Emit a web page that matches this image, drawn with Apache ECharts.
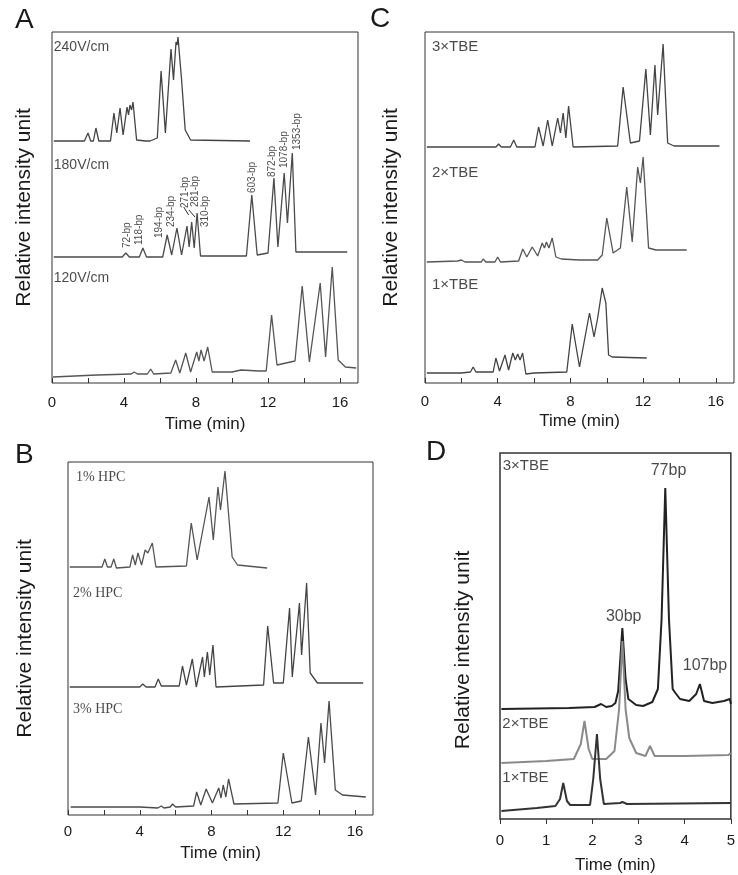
<!DOCTYPE html>
<html>
<head>
<meta charset="utf-8">
<script src="https://cdn.jsdelivr.net/npm/echarts@6/dist/echarts.min.js"></script>
<style>html,body{margin:0;padding:0;background:#fff}#c{width:738px;height:875px}</style>
</head>
<body>
<div id="c"></div>
<script>
// ---------- tick values ----------
const ticksLong = [0, 2, 4, 6, 8, 10, 12, 14, 16];
const labelsLong = [0, 4, 8, 12, 16];
const ticksD = [0, 1, 2, 3, 4, 5];

// ---------- Panel A (field strength) : [time min, relative intensity] ----------
const a240 = [[0.1,242],[1.8,242],[2.0,250],[2.15,242],[2.3,242],[2.44,255],[2.6,242],[3.25,242],[3.44,270],[3.6,250],[3.78,275],[3.95,248],[4.17,276],[4.25,268],[4.33,278],[4.42,273],[4.5,281],[4.7,243],[5.2,242],[5.3,244],[5.45,242],[5.85,245],[6.06,312],[6.3,250],[6.61,334],[6.75,303],[6.89,341],[6.95,338],[7.0,346],[7.2,303],[7.4,253],[7.7,243],[11.0,242]];
const a180 = [[0.1,126],[3.9,126],[4.1,130],[4.3,126],[4.85,126],[5.05,135],[5.25,126],[6.15,126],[6.4,148],[6.65,128],[6.94,155],[7.2,128],[7.5,157],[7.62,136],[7.76,161],[7.9,135],[8.06,170],[8.25,127],[10.8,127],[11.1,188],[11.4,128],[12.0,130],[12.33,205],[12.55,136],[12.9,210],[13.08,160],[13.35,230],[13.55,131],[16.4,131]];
const a120 = [[0.05,6],[2.5,8],[4.4,9],[4.57,11],[4.75,9],[5.3,9],[5.48,14],[5.65,9],[6.6,10],[6.87,23],[7.1,10],[7.43,30],[7.7,11],[8.04,31],[8.16,22],[8.28,33],[8.45,22],[8.65,36],[8.9,11],[10.0,11],[10.5,13],[11.5,12],[11.9,12],[12.2,68],[12.5,18],[13.0,20],[13.5,22],[13.9,97],[14.3,21],[14.9,100],[15.2,26],[15.57,116],[15.9,23],[16.3,16],[16.9,15]];
const aTraceNames = [['240V/cm',0.1,336],['180V/cm',0.1,218],['120V/cm',0.1,105]];
const aBpLabels = [['72-bp',4.17,135],['118-bp',4.83,138],['194-bp',5.94,145],['234-bp',6.61,156],['271-bp',7.39,175],['281-bp',7.94,176],['310-bp',8.5,156],['603-bp',11.11,190],['872-bp',12.22,206],['1078-bp',12.9,215],['1353-bp',13.6,233]];
const aLeader271 = [[7.32,176],[7.59,168]];
const aLeader281 = [[7.61,173],[7.94,166]];

// ---------- Panel B (HPC concentration) ----------
const b1 = [[0.1,248],[1.9,248],[2.05,256],[2.2,248],[2.4,248],[2.55,256],[2.7,247],[3.45,248],[3.6,260],[3.75,250],[3.9,262],[4.1,250],[4.3,265],[4.45,262],[4.7,272],[4.9,248],[6.6,249],[6.87,292],[7.2,255],[7.86,318],[8.1,275],[8.36,328],[8.5,305],[8.75,344],[9.15,258],[9.45,250],[11.1,247]];
const b2 = [[0.1,128],[4.0,128],[4.17,131],[4.35,128],[4.85,128],[5.03,136],[5.2,129],[6.2,129],[6.38,149],[6.6,130],[6.93,156],[7.15,128],[7.5,158],[7.6,138],[7.77,163],[7.9,140],[8.08,170],[8.25,128],[10.9,130],[11.13,189],[11.46,132],[12.0,132],[12.35,207],[12.5,138],[12.9,212],[13.02,160],[13.3,232],[13.5,142],[13.9,132],[16.45,132]];
const b3 = [[0.15,8],[4.0,8],[5.0,7],[5.2,9],[5.35,7],[5.7,8],[5.83,11],[6.0,8],[7.0,9],[7.17,23],[7.4,10],[7.7,26],[8.05,12],[8.4,27],[8.53,17],[8.65,30],[8.8,18],[8.95,36],[9.25,11],[11.7,12],[12.0,62],[12.48,12],[13.0,14],[13.4,78],[13.8,20],[14.1,92],[14.3,52],[14.55,114],[14.9,25],[15.3,20],[16.6,18]];
const bTraceNames = [['1% HPC',0.44,338],['2% HPC',0.28,222],['3% HPC',0.28,106]];

// ---------- Panel C (TBE concentration) ----------
const c3 = [[0.1,236],[3.9,236],[4.05,239],[4.2,236],[4.7,236],[4.88,243],[5.05,236],[6.05,236],[6.25,256],[6.5,237],[6.75,263],[7.0,237],[7.3,265],[7.45,250],[7.6,270],[7.75,245],[7.9,277],[8.15,236],[10.6,237],[10.9,296],[11.3,240],[11.8,242],[12.15,314],[12.4,248],[12.65,318],[12.8,268],[13.1,339],[13.35,240],[13.7,237],[16.2,237]];
const c2 = [[0.1,121],[1.8,122],[2.0,123],[2.2,121],[3.1,121],[3.2,124],[3.35,121],[3.85,121],[4.0,126],[4.15,121],[5.15,122],[5.38,134],[5.6,126],[5.9,136],[6.2,127],[6.45,140],[6.57,135],[6.68,141],[6.82,135],[7.0,145],[7.2,126],[7.5,124],[8.5,123],[9.5,123],[9.75,128],[10.0,165],[10.35,130],[10.75,135],[11.1,196],[11.4,141],[11.7,216],[11.85,200],[12.0,226],[12.3,135],[12.7,133],[14.4,133]];
const c1 = [[0.1,10],[1.8,10],[1.9,12],[2.0,10],[2.5,11],[2.65,16],[2.8,11],[3.75,11],[3.9,25],[4.1,12],[4.4,28],[4.6,13],[4.83,30],[4.97,23],[5.1,29],[5.23,23],[5.37,30],[5.55,9],[6.0,10],[7.8,11],[8.1,59],[8.5,16],[9.05,70],[9.3,46],[9.5,65],[9.75,95],[9.95,80],[10.1,28],[10.3,26],[12.2,25]];
const cTraceNames = [['3×TBE',0.38,336],['2×TBE',0.38,210],['1×TBE',0.38,98]];

// ---------- Panel D (short fragments) ----------
const d3 = [[0.03,110],[1.5,111],[2.05,112],[2.19,115],[2.3,112],[2.42,113],[2.5,116],[2.56,128],[2.65,191],[2.72,140],[2.78,120],[2.95,114],[3.1,113],[3.3,117],[3.42,130],[3.5,200],[3.58,331],[3.66,200],[3.74,130],[3.8,126],[3.9,120],[4.1,118],[4.25,125],[4.33,135],[4.42,118],[4.6,116],[4.85,118],[4.98,120],[5.0,115]];
const d2 = [[0.03,56],[1.0,58],[1.6,60],[1.75,75],[1.83,98],[1.92,70],[2.0,60],[2.3,60],[2.48,68],[2.58,110],[2.65,178],[2.72,110],[2.8,81],[2.95,66],[3.15,63],[3.25,73],[3.35,63],[4.0,63],[4.95,64],[5.0,66]];
const d1 = [[0.03,8],[0.8,11],[1.2,13],[1.3,20],[1.37,36],[1.45,18],[1.52,14],[1.95,14],[2.02,40],[2.1,85],[2.17,40],[2.25,15],[2.6,16],[2.65,17],[2.75,15],[5.0,16]];
const dTraceNames = [['3×TBE',0.06,353],['2×TBE',0.05,95],['1×TBE',0.05,41]];
const dBpLabels = [['30bp',2.68,202],['77bp',3.65,348],['107bp',4.44,153]];

// ---------- chart ----------
const F = '"Liberation Sans", Arial, sans-serif';
const SERIF = '"Liberation Serif", "Times New Roman", serif';
const ink = '#1a1a1a';

function xAx(gi, max, ticks, labels, inside, margin, nameGap) {
  return {
    gridIndex: gi, type: 'value', min: 0, max: max,
    axisLine: { show: false }, splitLine: { show: false },
    axisTick: { show: true, inside: inside, length: 5, customValues: ticks, lineStyle: { color: '#333', width: 1 } },
    axisLabel: { customValues: labels, margin: margin, fontSize: 15, color: ink, fontFamily: F },
    name: 'Time (min)', nameLocation: 'middle', nameGap: nameGap,
    nameTextStyle: { fontSize: 17, color: ink, fontFamily: F }
  };
}
function yAx(gi, max, nameGap, extra) {
  return {
    gridIndex: gi, type: 'value', min: 0, max: max,
    axisLine: { show: false }, axisTick: { show: false }, axisLabel: { show: false }, splitLine: { show: false },
    name: 'Relative intensity unit', nameLocation: 'middle', nameGap: nameGap,
    nameTextStyle: Object.assign({ fontSize: 21, color: ink, fontFamily: F }, extra || {})
  };
}
function trace(data, gi, color, width) {
  return { type: 'line', xAxisIndex: gi, yAxisIndex: gi, data: data, showSymbol: false, symbol: 'none',
    lineStyle: { color: color, width: width }, silent: true, z: 3 };
}
function names(items, gi, font, size) {
  return { type: 'scatter', xAxisIndex: gi, yAxisIndex: gi, symbolSize: 0, silent: true, z: 5,
    data: items.map(function (d) { return { name: d[0], value: [d[1], d[2]] }; }),
    label: { show: true, formatter: '{b}', position: 'right', distance: 0, color: ink, fontFamily: font, fontSize: size } };
}
function rotated(items, gi) {
  return { type: 'scatter', xAxisIndex: gi, yAxisIndex: gi, symbolSize: 0, silent: true, z: 5,
    data: items.map(function (d) { return { name: d[0], value: [d[1], d[2]] }; }),
    label: { show: true, formatter: '{b}', position: [0, 0], rotate: 90, align: 'left', verticalAlign: 'middle',
      color: ink, fontFamily: F, fontSize: 10 } };
}
function centered(items, gi) {
  return { type: 'scatter', xAxisIndex: gi, yAxisIndex: gi, symbolSize: 0, silent: true, z: 5,
    data: items.map(function (d) { return { name: d[0], value: [d[1], d[2]] }; }),
    label: { show: true, formatter: '{b}', position: 'inside', color: ink, fontFamily: F, fontSize: 16 } };
}

const chart = echarts.init(document.getElementById('c'), null, { renderer: 'canvas' });
chart.setOption({
  animation: false,
  backgroundColor: '#fff',
  grid: [
    { left: 52, top: 32, width: 306, height: 351, show: true, borderColor: '#333', borderWidth: 1 },
    { left: 68, top: 462, width: 305, height: 353, show: true, borderColor: '#333', borderWidth: 1 },
    { left: 425, top: 32, width: 309, height: 351, show: true, borderColor: '#333', borderWidth: 1 },
    { left: 500, top: 453, width: 233, height: 366, show: true, borderColor: '#333', borderWidth: 1.5 }
  ],
  xAxis: [
    xAx(0, 17, ticksLong, labelsLong, true, 12, 33),
    xAx(1, 17, ticksLong, labelsLong, true, 9, 30),
    xAx(2, 17, ticksLong, labelsLong, true, 11, 30),
    xAx(3, 5, ticksD, ticksD, false, 14, 38)
  ],
  yAxis: [
    yAx(0, 351, 17),
    yAx(1, 353, 32),
    yAx(2, 351, 23),
    yAx(3, 366, 26, { padding: [0, 28, 0, 0] })
  ],
  graphic: [
    { type: 'text', left: 15, top: 6, style: { text: 'A', fontSize: 28, fontFamily: F, fill: ink } },
    { type: 'text', left: 15, top: 441, style: { text: 'B', fontSize: 28, fontFamily: F, fill: ink } },
    { type: 'text', left: 370, top: 5, style: { text: 'C', fontSize: 28, fontFamily: F, fill: ink } },
    { type: 'text', left: 426, top: 438, style: { text: 'D', fontSize: 28, fontFamily: F, fill: ink } }
  ],
  series: [
    trace(a240, 0, '#444', 1.3), trace(a180, 0, '#4a4a4a', 1.3), trace(a120, 0, '#555', 1.3),
    trace(aLeader271, 0, '#333', 1), trace(aLeader281, 0, '#333', 1),
    names(aTraceNames, 0, F, 14), rotated(aBpLabels, 0),
    trace(b1, 1, '#555', 1.3), trace(b2, 1, '#444', 1.3), trace(b3, 1, '#4a4a4a', 1.3),
    names(bTraceNames, 1, SERIF, 14),
    trace(c3, 2, '#444', 1.3), trace(c2, 2, '#555', 1.3), trace(c1, 2, '#444', 1.3),
    names(cTraceNames, 2, F, 15),
    trace(d3, 3, '#222', 2), trace(d2, 3, '#8a8a8a', 2), trace(d1, 3, '#333', 2),
    names(dTraceNames, 3, F, 15), centered(dBpLabels, 3)
  ]
});
</script>
</body>
</html>
